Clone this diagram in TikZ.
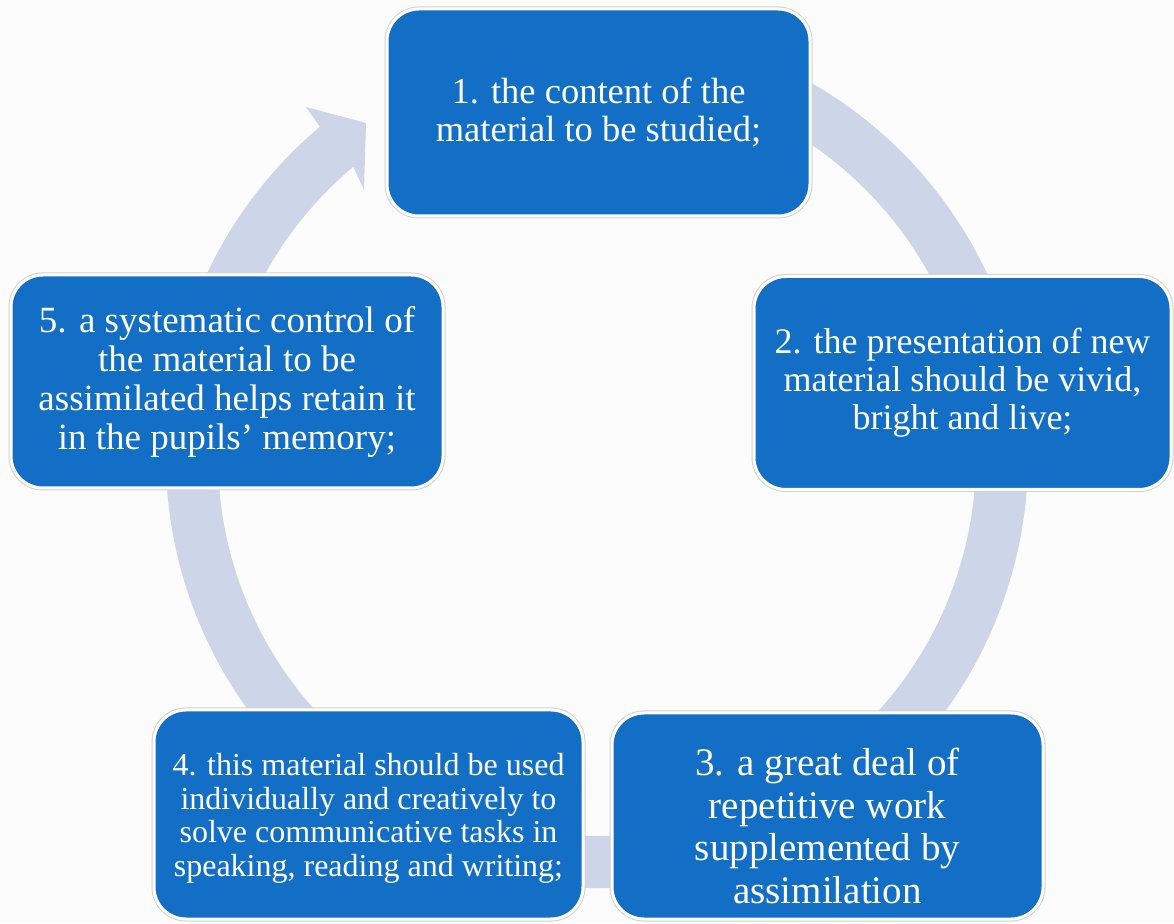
\documentclass[tikz,border=0pt]{standalone}
\usepackage{fontspec}
\setmainfont{Liberation Serif}
\definecolor{boxblue}{RGB}{19,110,197}
\definecolor{ringblue}{RGB}{205,213,232}
\definecolor{bgcol}{RGB}{252,252,252}
\begin{document}
\begin{tikzpicture}[x=1pt,y=1pt,
  cyclebox/.style={rectangle, rounded corners=32pt, fill=boxblue, draw=white,
    line width=3pt, preaction={draw=black!18, line width=5pt},
    text=white, align=center, inner sep=0pt},
  ringshape/.style={fill=ringblue}
]
\fill[bgcol] (0,0) rectangle (1174,923);
\useasboundingbox (0,0) rectangle (1174,923);
% circular arrow
\begin{scope}[shift={(597,466)}]
  \fill[ringshape] (75:431) arc[start angle=75,end angle=-230,radius=431]
    -- (-291,350) -- (-231,334) -- (-233,267)
    -- (-230:379) arc[start angle=-230,end angle=75,radius=379] -- cycle;
\end{scope}
% boxes
\node[cyclebox, minimum width=423pt, minimum height=207pt,
  font=\fontsize{36.5}{38}\selectfont] (b1) at (598.5,810.5)
  {1. the content of the\\material to be studied;};
\node[cyclebox, minimum width=417pt, minimum height=213pt,
  font=\fontsize{36}{38}\selectfont] (b2) at (962.5,540)
  {2. the presentation of new\\material should be vivid,\\bright and live;};
\node[cyclebox, minimum width=431pt, minimum height=206pt,
  font=\fontsize{39}{42.5}\selectfont] (b3) at (827.5,107)
  {\rule{0pt}{47pt}3. a great deal of\\repetitive work\\supplemented by\\assimilation};
\node[cyclebox, minimum width=429pt, minimum height=209pt,
  font=\fontsize{32}{33.5}\selectfont] (b4) at (368.5,108.5)
  {\rule{0pt}{30pt}4. this material should be used\\individually and creatively to\\solve communicative tasks in\\speaking, reading and writing;};
\node[cyclebox, minimum width=432pt, minimum height=213pt,
  font=\fontsize{37}{39}\selectfont] (b5) at (227,541.5)
  {5. a systematic control of\\the material to be\\assimilated helps retain it\\in the pupils' memory;};
\end{tikzpicture}
\end{document}
